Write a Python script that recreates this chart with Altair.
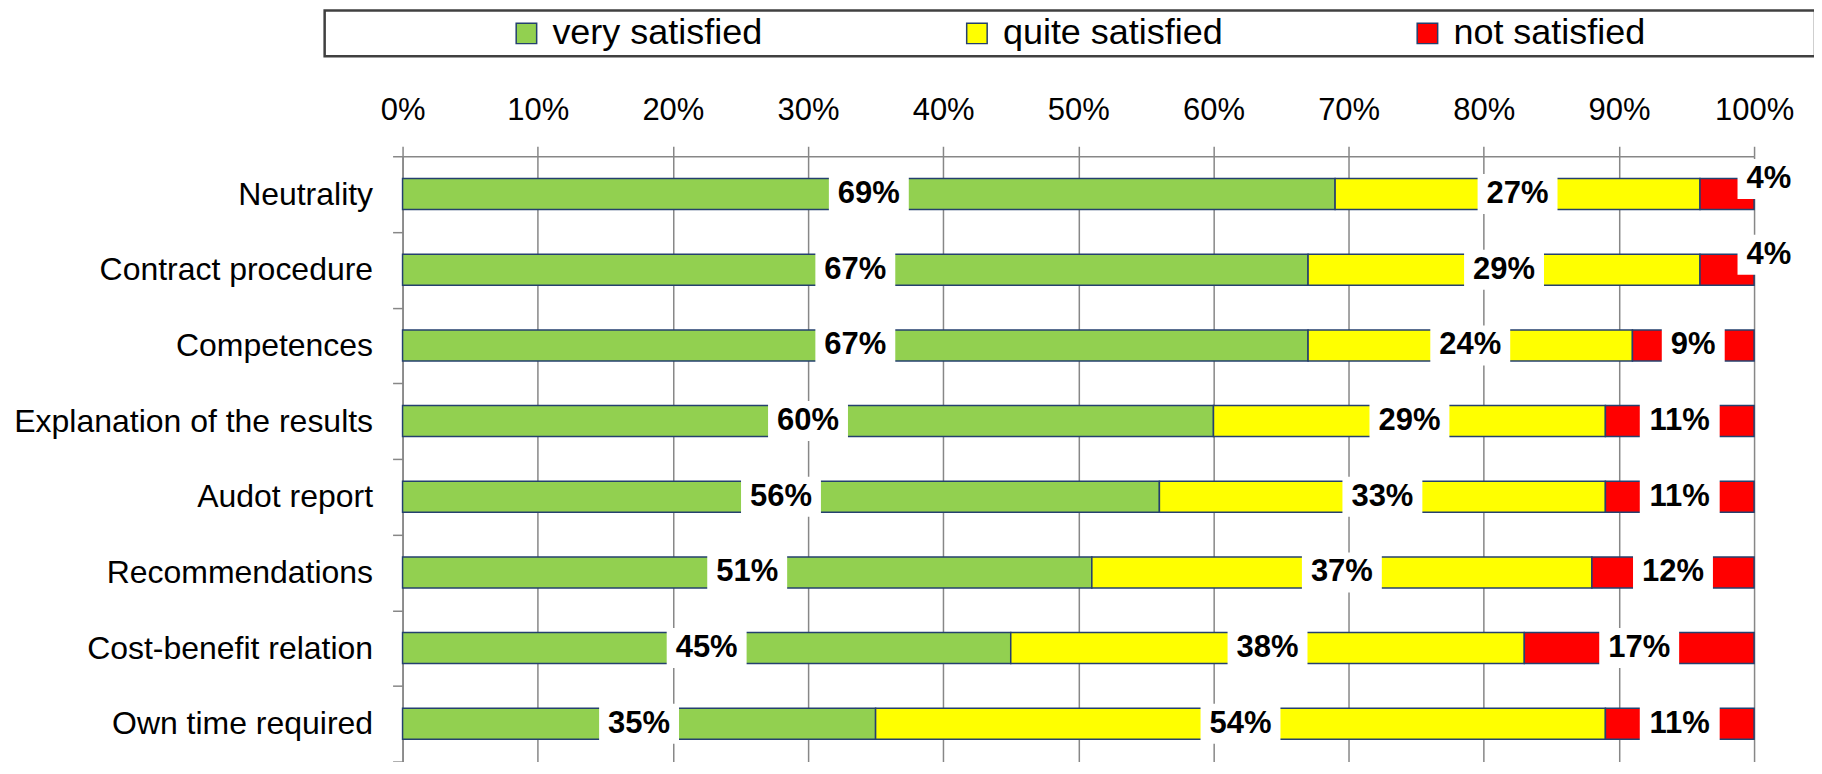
import altair as alt
import pandas as pd

categories = [
    "Neutrality",
    "Contract procedure",
    "Competences",
    "Explanation of the results",
    "Audot report",
    "Recommendations",
    "Cost-benefit relation",
    "Own time required",
]
very_satisfied = [69, 67, 67, 60, 56, 51, 45, 35]
quite_satisfied = [27, 29, 24, 29, 33, 37, 38, 54]
not_satisfied = [4, 4, 9, 11, 11, 12, 17, 11]
levels = ["very satisfied", "quite satisfied", "not satisfied"]
colors = ["#92D050", "#FFFF00", "#FF0000"]
x_ticks = list(range(0, 101, 10))

rows = []
for i, c in enumerate(categories):
    for j, vals in enumerate([very_satisfied, quite_satisfied, not_satisfied]):
        rows.append({"category": c, "level": levels[j], "order": j, "value": vals[i]})
df = pd.DataFrame(rows)

FONT = "Liberation Sans, Arial, Helvetica, sans-serif"
GRID = "#878787"
EDGE = "#24406e"
W, H = 1353, 606

xscale = alt.Scale(domain=[0, 100], nice=False, zero=True)
yscale = alt.Scale(domain=categories, paddingInner=0, paddingOuter=0)

x_axis = alt.Axis(
    orient="top", values=x_ticks, labelExpr="datum.value + '%'",
    grid=True, gridColor=GRID, gridWidth=1.5,
    domainColor=GRID, domainWidth=1.5,
    tickColor=GRID, tickWidth=1.5, tickSize=10,
    labelFontSize=31, labelFont=FONT, labelColor="#000000", labelPadding=20,
    labelFlush=False, labelLimit=0, labelOverlap=False,
    title=None,
)
y_axis = alt.Axis(
    tickBand="extent", grid=False,
    domainColor=GRID, domainWidth=1.5,
    tickColor=GRID, tickWidth=1.5, tickSize=10,
    labelFontSize=32, labelFont=FONT, labelColor="#000000", labelPadding=20,
    labelLimit=0, labelOverlap=False,
    title=None,
)

y_enc = alt.Y("category:N", scale=yscale, axis=y_axis, sort=categories)

base = alt.Chart(df).transform_stack(
    stack="value", groupby=["category"], as_=["x0", "x1"],
    sort=[alt.SortField("order", order="ascending")],
).transform_calculate(
    mid="(datum.x0 + datum.x1) / 2",
    label="datum.value + '%'",
)

bars = base.mark_bar(size=31, stroke=EDGE, strokeWidth=1.5).encode(
    x=alt.X("x0:Q", scale=xscale, axis=x_axis),
    x2="x1:Q",
    y=y_enc,
    color=alt.Color(
        "level:N",
        scale=alt.Scale(domain=levels, range=colors),
        legend=alt.Legend(
            orient="none", legendX=106, legendY=-141, direction="horizontal",
            title=None, columnPadding=186, labelOffset=8, labelLimit=0,
            gridAlign="all",
            labelFontSize=36, labelFont=FONT, labelColor="#000000",
            symbolType="M-1,-1H1V1H-1Z", symbolSize=420,
            symbolStrokeColor=EDGE, symbolStrokeWidth=1.5, symbolOpacity=1,
            padding=0,
        ),
        sort=levels,
    ),
    order=alt.Order("order:Q"),
)

BOX2 = "M-1,-0.5H1V0.5H-1Z"
BOX1 = "M-1,-0.635H1V0.635H-1Z"

def boxes(filter_expr, dx, dy):
    return base.transform_filter(filter_expr).mark_point(
        filled=True, fill="white", opacity=1, strokeWidth=0, xOffset=dx, yOffset=dy
    ).encode(
        x=alt.X("mid:Q", scale=xscale, axis=x_axis),
        y=y_enc,
        shape=alt.condition("datum.value < 10", alt.value(BOX1), alt.value(BOX2)),
        size=alt.condition("datum.value < 10", alt.value(3969), alt.value(6400)),
    )

def labels(filter_expr, dx, dy):
    return base.transform_filter(filter_expr).mark_text(
        font=FONT, fontSize=31, fontWeight="bold", color="#000000",
        align="center", baseline="middle", dx=dx, dy=dy,
    ).encode(
        x=alt.X("mid:Q", scale=xscale, axis=x_axis),
        y=y_enc,
        text="label:N",
    )

frame = alt.Chart(pd.DataFrame({"k": [0]})).mark_rect(
    fill="white", stroke="#404040", strokeWidth=2.5
).encode(
    x=alt.value(-78), x2=alt.value(1414), y=alt.value(-146), y2=alt.value(-100)
)

chart = alt.layer(
    frame,
    bars,
    boxes("datum.value >= 5", 0, 0),
    boxes("datum.value < 5", 42, -15),
    labels("datum.value >= 5", 0, 0),
    labels("datum.value < 5", 42, -15),
).properties(
    width=W, height=H,
    padding={"left": 395, "top": 148, "right": 60, "bottom": 0},
    autosize=alt.AutoSizeParams(type="none"),
).configure_view(stroke=None)

chart.save("out.html", embed_options={"renderer": "svg", "actions": False})
